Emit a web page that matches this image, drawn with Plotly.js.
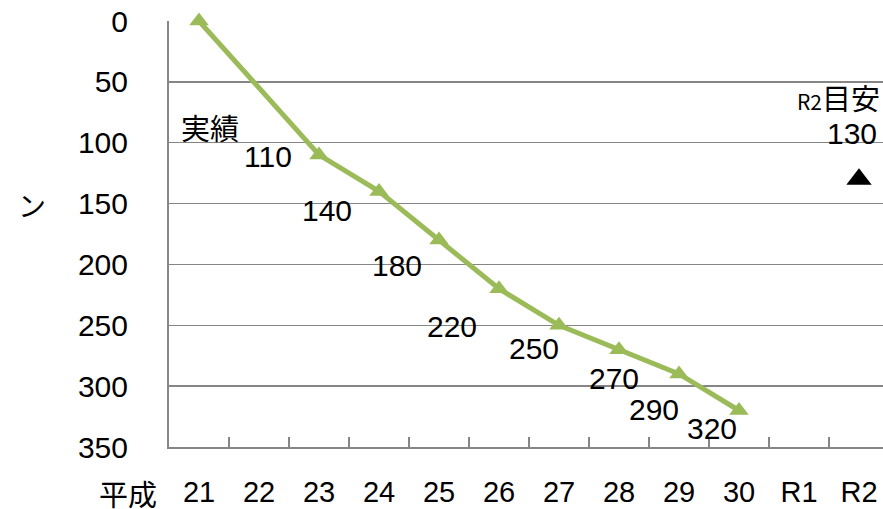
<!DOCTYPE html>
<html>
<head>
<meta charset="utf-8">
<script src="https://cdn.plot.ly/plotly-3.0.1.min.js"></script>
<style>
html,body{margin:0;padding:0;overflow:hidden;background:#fff;width:883px;height:509px;}
#chart{width:889px;height:509px;}
</style>
</head>
<body>
<div id="chart"></div>
<script>
// ---- data ----
var categories = ['21','22','23','24','25','26','27','28','29','30','R1','R2'];
var actualYears = ['21','23','24','25','26','27','28','29','30'];
var actualValues = [0, 110, 140, 180, 220, 250, 270, 290, 320];
var targetYear = ['R2'];
var targetValue = [130];
var yTicks = [0, 50, 100, 150, 200, 250, 300, 350];

// ---- label placement (pixel offsets from each point, style only) ----
var labelShift = {
  '23': [-51, -2], '24': [-52, -19], '25': [-42, -25], '26': [-47, -38],
  '27': [-25, -23], '28': [-5, -29], '29': [-25, -36], '30': [-27, -18]
};

var FONT = 'Liberation Sans, Noto Sans CJK JP, sans-serif';
var CJK = 'Noto Sans CJK JP, sans-serif';
var green = '#9BBB59';
var grid = '#868686';

var traces = [
  {
    type: 'scatter', mode: 'lines+markers',
    x: actualYears, y: actualValues,
    line: {color: green, width: 5},
    marker: {symbol: 'triangle-up', size: 17, color: green},
    hoverinfo: 'skip', showlegend: false, cliponaxis: false
  },
  {
    type: 'scatter', mode: 'markers',
    x: targetYear, y: targetValue,
    marker: {symbol: 'triangle-up', size: 22, color: '#000'},
    hoverinfo: 'skip', showlegend: false, cliponaxis: false
  }
];

var annotations = [];
actualYears.forEach(function(c, i){
  if (!labelShift[c]) return;
  annotations.push({
    x: categories.indexOf(c), y: actualValues[i], xref: 'x', yref: 'y',
    text: String(actualValues[i]), showarrow: false,
    xanchor: 'center', yanchor: 'middle',
    xshift: labelShift[c][0], yshift: labelShift[c][1],
    font: {family: FONT, size: 30, color: '#000'}
  });
});
annotations.push({
  x: categories.indexOf(targetYear[0]), y: targetValue[0], xref: 'x', yref: 'y',
  text: String(targetValue[0]), showarrow: false, xshift: -7, yshift: 46,
  xanchor: 'center', yanchor: 'middle',
  font: {family: FONT, size: 30, color: '#000'}
});
annotations.push({
  x: categories.indexOf(targetYear[0]), y: targetValue[0], xref: 'x', yref: 'y',
  text: '<span style="font-size:21px">R2</span>目安', showarrow: false,
  xshift: -21, yshift: 82, xanchor: 'center', yanchor: 'middle',
  font: {family: CJK, size: 29, color: '#000'}
});
annotations.push({
  x: 210, y: 127, xref: 'paper', yref: 'paper', text: '実績', showarrow: false,
  font: {family: CJK, size: 29, color: '#000'}
});
annotations.push({
  x: 128, y: 493, text: '平成', showarrow: false,
  font: {family: CJK, size: 29, color: '#000'}
});
annotations.push({
  x: 32, y: 205, text: 'ン', showarrow: false,
  font: {family: CJK, size: 28, color: '#000'}
});

// convert pixel-placed paper annotations
var L = 169, T = 21, W = 720, H = 425.7;
annotations.forEach(function(a){
  if (a.xref === undefined) { a.xref = 'paper'; a.yref = 'paper'; }
  if (a.xref === 'paper') {
    a.x = (a.x - L) / W;
    a.y = 1 - (a.y - T) / H;
    a.xanchor = 'center';
    a.yanchor = 'middle';
  }
});

var layout = {
  width: 889, height: 509,
  margin: {l: L, r: 0, t: T, b: 509 - T - H},
  paper_bgcolor: '#fff', plot_bgcolor: '#fff',
  showlegend: false,
  xaxis: {
    type: 'category', categoryorder: 'array', categoryarray: categories,
    range: [-0.5, categories.length - 0.5],
    showgrid: false, zeroline: false,
    showline: true, linecolor: grid, linewidth: 2,
    ticks: 'inside', tickson: 'boundaries', ticklen: 10, tickwidth: 2, tickcolor: grid,
    tickfont: {family: FONT, size: 29, color: '#000'},
    ticklabelstandoff: 18,
    fixedrange: true
  },
  yaxis: {
    range: [350, 0], tickvals: yTicks, ticktext: yTicks.map(String),
    showgrid: true, gridcolor: grid, gridwidth: 1.5,
    zeroline: false, showline: true, linecolor: grid, linewidth: 2,
    ticks: '', tickfont: {family: FONT, size: 30, color: '#000'},
    ticklabelstandoff: 33,
    fixedrange: true
  },
  annotations: annotations
};

Plotly.newPlot('chart', traces, layout, {displayModeBar: false, staticPlot: true});
</script>
</body>
</html>
